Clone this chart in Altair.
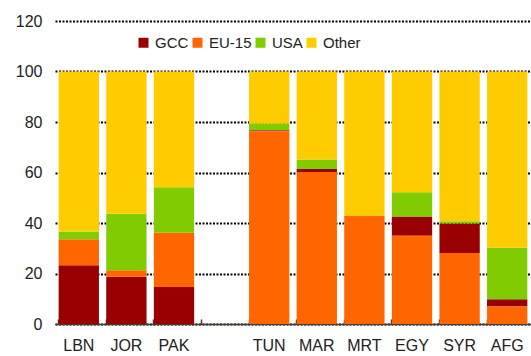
import altair as alt
import pandas as pd

countries = ["LBN", "JOR", "PAK", " ", "TUN", "MAR", "MRT", "EGY", "SYR", "AFG"]
bar_countries = ["LBN", "JOR", "PAK", "TUN", "MAR", "MRT", "EGY", "SYR", "AFG"]
gcc = [23.3, 18.7, 14.7, 0.4, 1.2, 0.0, 7.6, 11.7, 2.9]
eu15 = [10.3, 2.6, 21.4, 76.3, 60.2, 42.8, 35.0, 28.1, 6.9]
usa = [3.0, 22.4, 18.1, 2.7, 3.7, 0.0, 9.6, 0.9, 20.4]
other = [63.4, 56.3, 45.8, 20.6, 34.9, 57.2, 47.8, 59.3, 69.8]
# stacking order: left group GCC at bottom, right group EU-15 at bottom
gcc_first = [True, True, True, False, False, False, False, False, False]

series = ["GCC", "EU-15", "USA", "Other"]
colors = ["#990000", "#FF6600", "#80CC00", "#FFCC00"]

rows = []
for i, c in enumerate(bar_countries):
    vals = {"GCC": gcc[i], "EU-15": eu15[i], "USA": usa[i], "Other": other[i]}
    order = ({"GCC": 0, "EU-15": 1, "USA": 2, "Other": 3} if gcc_first[i]
             else {"EU-15": 0, "GCC": 1, "USA": 2, "Other": 3})
    for s in series:
        rows.append({"country": c, "series": s, "value": vals[s], "ord": order[s]})
df = pd.DataFrame(rows)

FONT = "Liberation Sans"

xscale = alt.Scale(domain=countries, paddingInner=0.153, paddingOuter=0.0765)
yscale = alt.Scale(domain=[0, 120])

bars = alt.Chart(df).mark_bar().encode(
    x=alt.X("country:N", scale=xscale, sort=countries, title=None,
            axis=alt.Axis(labelAngle=0, ticks=False, domain=True, domainColor="#4a3a30",
                          domainWidth=1.5, labelPadding=13, labelFontSize=16,
                          labelFont=FONT, labelColor="#222222", grid=False)),
    y=alt.Y("value:Q", stack="zero", scale=yscale, title=None,
            axis=alt.Axis(values=[0, 20, 40, 60, 80, 100, 120], ticks=False, domain=False,
                          labelPadding=13, labelFontSize=16, labelFont=FONT,
                          labelColor="#222222", grid=True, gridColor="#000000",
                          gridDash=[2, 1.5], gridWidth=2)),
    color=alt.Color("series:N", scale=alt.Scale(domain=series, range=colors),
                    legend=alt.Legend(title=None, orient="none", direction="horizontal",
                                      legendX=81, legendY=14, symbolType="square",
                                      symbolSize=100, symbolStrokeWidth=0,
                                      labelFont=FONT, labelFontSize=15,
                                      labelColor="#222222", labelOffset=4,
                                      columnPadding=1)),
    order=alt.Order("ord:Q"),
)

ticks = alt.Chart(df).mark_bar(opacity=0).encode(
    x=alt.X("country:N", scale=xscale, sort=countries, title=None,
            axis=alt.Axis(orient="top", offset=-303, labels=False, domain=False,
                          ticks=True, tickSize=5, tickColor="#4a3a30", tickWidth=1.5,
                          bandPosition=0, grid=False)),
    y=alt.Y("value:Q", stack="zero", scale=yscale),
)

chart = alt.layer(bars, ticks).resolve_axis(x="independent").properties(
    width=476, height=303,
    autosize=alt.AutoSizeParams(type="none"),
    padding={"left": 55, "top": 21, "right": 0, "bottom": 32},
).configure_view(stroke=None)

chart.save("out.html", embed_options={"renderer": "svg", "actions": False})
